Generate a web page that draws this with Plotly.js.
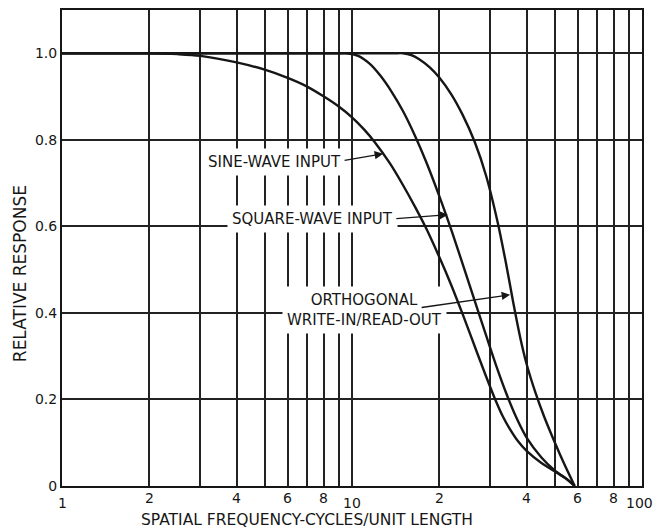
<!DOCTYPE html>
<html>
<head>
<meta charset="utf-8">
<script src="https://cdn.plot.ly/plotly-3.0.1.min.js"></script>
<style>html,body{margin:0;padding:0;background:#fff;}#chart{width:654px;height:528px;}</style>
</head>
<body>
<div id="chart"></div>
<script>
// ---- data ----
const sineX = [1, 1.5, 2, 2.5, 3, 4, 5, 6, 7, 8, 9, 10, 11, 12, 13.5, 15, 16.5, 18, 20, 22, 24.2, 27, 29, 31, 33, 35, 37.5, 40, 45, 50, 55, 58.6];
const sineY = [1, 1, 1, 0.998, 0.994, 0.979, 0.962, 0.943, 0.923, 0.90, 0.877, 0.852, 0.824, 0.794, 0.746, 0.695, 0.645, 0.596, 0.529, 0.464, 0.393, 0.308, 0.253, 0.204, 0.163, 0.132, 0.102, 0.081, 0.053, 0.034, 0.016, 0];
const squareX = [1, 2, 4, 6, 8, 9, 9.6, 10.5, 11.5, 12.5, 13.7, 15, 16.5, 18, 20, 22, 24.1, 26.5, 29, 31.5, 34, 37, 40, 45, 50, 55, 58.6];
const squareY = [1, 1, 1, 1, 1, 1, 1, 0.994, 0.976, 0.949, 0.911, 0.866, 0.809, 0.750, 0.670, 0.592, 0.512, 0.428, 0.348, 0.276, 0.215, 0.156, 0.112, 0.066, 0.036, 0.016, 0];
const orthoX = [1, 2, 4, 7, 10, 12, 14, 15, 16, 17, 18.5, 20, 22, 24.1, 26.5, 29, 31.8, 34, 36, 38, 40, 43, 46, 50, 54, 58.6];
const orthoY = [1, 1, 1, 1, 1, 1, 1, 1, 0.996, 0.987, 0.968, 0.944, 0.905, 0.857, 0.795, 0.717, 0.609, 0.513, 0.423, 0.344, 0.282, 0.214, 0.160, 0.101, 0.050, 0];

const xGridVals = [1, 2, 3, 4, 5, 6, 7, 8, 9, 10, 20, 30, 40, 50, 60, 70, 80, 90, 100];
const xTickVals = [1, 2, 4, 6, 8, 10, 20, 40, 60, 80, 100];
const xTickText = ['1', '2', '4', '6', '8', '10', '2', '4', '6', '8', '100'];
const yTickVals = [0, 0.2, 0.4, 0.6, 0.8, 1.0];
const yTickText = ['0', '0.2', '0.4', '0.6', '0.8', '1.0'];

const seriesNames = ['SINE-WAVE INPUT', 'SQUARE-WAVE INPUT', 'ORTHOGONAL<br>WRITE-IN/READ-OUT'];
const arrowTargetX = [12.8, 21.4, 35.1];
const arrowTargetY = [0.768, 0.627, 0.442];

const xTitle = 'SPATIAL FREQUENCY-CYCLES/UNIT LENGTH';
const yTitle = 'RELATIVE RESPONSE';

// ---- styling ----
const ink = '#161616';
const FONT = 'DejaVu Sans, Liberation Sans, sans-serif';

function curve(x, y, name) {
  return {
    x: x, y: y, name: name, type: 'scatter', mode: 'lines',
    line: {color: ink, width: 2.4, shape: 'spline', smoothing: 0.9},
    hoverinfo: 'skip', showlegend: false
  };
}

const traces = [
  curve(sineX, sineY, seriesNames[0]),
  curve(squareX, squareY, seriesNames[1]),
  curve(orthoX, orthoY, seriesNames[2])
];

const annotations = [];

// x tick labels (decade labels sit lower, as in the original)
xTickVals.forEach((v, i) => {
  const decade = Math.abs(Math.log10(v) - Math.round(Math.log10(v))) < 1e-9;
  const last = i === xTickVals.length - 1;
  annotations.push({
    x: Math.log10(v), xref: 'x', y: 0, yref: 'paper',
    text: xTickText[i], showarrow: false,
    yanchor: 'top', xanchor: 'center',
    yshift: decade ? -7 : -2, xshift: last ? -3 : 0,
    font: {family: FONT, size: 14, color: ink}
  });
});

// curve labels (white boxes break the grid)
const labelPos = [[0.366, 0.681], [0.432, 0.561], [0.522, 0.369]];
seriesNames.forEach((t, i) => {
  annotations.push({
    x: labelPos[i][0], y: labelPos[i][1], xref: 'paper', yref: 'paper',
    text: t, showarrow: false, xanchor: 'center', yanchor: 'middle',
    bgcolor: '#ffffff', borderpad: 4,
    font: {family: FONT, size: 15, color: ink}
  });
});

// arrows
const arrowTail = [[-40, 7], [-53, 4], [-90, 13]];
arrowTargetX.forEach((xv, i) => {
  annotations.push({
    x: Math.log10(xv), y: arrowTargetY[i], xref: 'x', yref: 'y',
    text: '', showarrow: true, ax: arrowTail[i][0], ay: arrowTail[i][1],
    arrowhead: 2, arrowsize: 1.3, arrowwidth: 1.3, arrowcolor: ink, standoff: 0
  });
});

// axis titles
annotations.push({
  x: 0.422, y: 0, xref: 'paper', yref: 'paper', yanchor: 'top', yshift: -23,
  text: xTitle, showarrow: false, font: {family: FONT, size: 15.5, color: ink}
});
annotations.push({
  x: 0, y: 0.445, xref: 'paper', yref: 'paper', xanchor: 'center', xshift: -42,
  text: yTitle, textangle: -90, showarrow: false, font: {family: FONT, size: 17, color: ink}
});

const layout = {
  width: 654, height: 528,
  margin: {l: 62, r: 12, t: 10, b: 42},
  paper_bgcolor: '#ffffff', plot_bgcolor: '#ffffff',
  font: {family: FONT, size: 14, color: ink},
  xaxis: {
    type: 'log', range: [0, 2],
    tickvals: xGridVals, showticklabels: false, ticks: '',
    showgrid: true, gridcolor: '#222', gridwidth: 2,
    showline: true, linecolor: ink, linewidth: 2, mirror: true,
    zeroline: false, fixedrange: true
  },
  yaxis: {
    range: [0, 1.1],
    tickvals: yTickVals, ticktext: yTickText, ticks: '',
    tickfont: {family: FONT, size: 14, color: ink},
    showgrid: true, gridcolor: '#222', gridwidth: 2,
    showline: true, linecolor: ink, linewidth: 2, mirror: true,
    zeroline: false, fixedrange: true
  },
  annotations: annotations,
  showlegend: false
};

Plotly.newPlot('chart', traces, layout, {staticPlot: true, displayModeBar: false});
</script>
</body>
</html>
